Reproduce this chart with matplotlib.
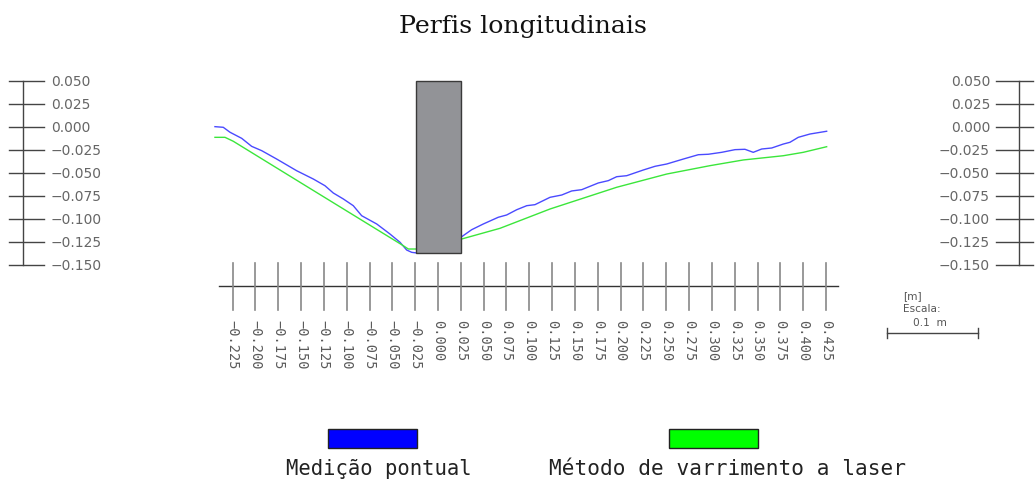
import matplotlib

matplotlib.use("Agg")
import matplotlib.pyplot as plt
from matplotlib.patches import Rectangle


# Perfil medido ponto a ponto (m)
blue_x = [-0.2443, -0.2352, -0.2278, -0.2150, -0.2041, -0.1931, -0.1767, -0.1548,
          -0.1366, -0.1238, -0.1147, -0.1037, -0.0928, -0.0836, -0.0671, -0.0526,
          -0.0416, -0.0343, -0.0288, -0.0233, 0.0000,
          0.0260, 0.0369, 0.0496, 0.0660, 0.0752, 0.0862, 0.0972, 0.1062, 0.1227,
          0.1355, 0.1464, 0.1574, 0.1756, 0.1865, 0.1957, 0.2067, 0.2249, 0.2377,
          0.2505, 0.2687, 0.2851, 0.2961, 0.3107, 0.3253, 0.3362, 0.3453, 0.3545,
          0.3655, 0.3782, 0.3855, 0.3946, 0.4074, 0.4257]
blue_y = [0.0007, 0.0000, -0.0054, -0.0120, -0.0207, -0.0254, -0.0345, -0.0472,
          -0.0562, -0.0635, -0.0714, -0.0779, -0.0852, -0.0961, -0.1051, -0.1160,
          -0.1250, -0.1334, -0.1359, -0.1366, -0.1300,
          -0.1189, -0.1113, -0.1051, -0.0978, -0.0953, -0.0896, -0.0852, -0.0841, -0.0761,
          -0.0736, -0.0692, -0.0678, -0.0605, -0.0580, -0.0537, -0.0526, -0.0464, -0.0424,
          -0.0399, -0.0345, -0.0298, -0.0293, -0.0272, -0.0243, -0.0239, -0.0272, -0.0236,
          -0.0225, -0.0182, -0.0163, -0.0109, -0.0073, -0.0043]

# Perfil obtido por varrimento laser (m)
green_x = [-0.2443, -0.2333, -0.2242, -0.1511, -0.0380, -0.0325, -0.0233, 0.0000,
           0.0260, 0.0679, 0.1227, 0.1957, 0.2505, 0.2979, 0.3344, 0.3782, 0.4001, 0.4257]
green_y = [-0.0109, -0.0109, -0.0152, -0.0598, -0.1287, -0.1323, -0.1323, -0.1280,
           -0.1214, -0.1098, -0.0888, -0.0652, -0.0508, -0.0417, -0.0355, -0.0309, -0.0272, -0.0211]

# Carril (secção a cinzento)
rail_left, rail_right = -0.0245, 0.025
rail_bottom, rail_top = -0.1366, 0.050

x_ticks = [round(-0.225 + 0.025 * i, 3) for i in range(27)]
y_ticks = [round(0.050 - 0.025 * i, 3) for i in range(9)]

series_labels = ["Medição pontual", "Método de varrimento a laser"]
series_colors = ["#0000ff", "#00ff00"]

# escala do desenho: pixels por metro
PX_X = 913.0
PX_Y = 920.0
W, H = 1035, 485
X0_PX, Y0_PX = 438.0, 128.3


def mx(px):
    return (px - X0_PX) / PX_X


def my(py):
    return (Y0_PX - py) / PX_Y


fig = plt.figure(figsize=(W / 100, H / 100), dpi=100)
ax = fig.add_axes([0, 0, 1, 1])
ax.set_xlim(mx(0), mx(W))
ax.set_ylim(my(H), my(0))
ax.axis("off")

ax.plot(blue_x, blue_y, color="#4a4aff", linewidth=1.0, zorder=3)
ax.plot(green_x, green_y, color="#3be63b", linewidth=1.0, zorder=3)
ax.add_patch(Rectangle((rail_left, rail_bottom), rail_right - rail_left, rail_top - rail_bottom,
                       facecolor="#929397", edgecolor="#3a3a3a", linewidth=1.0, zorder=4))

# réguas verticais (esquerda e direita)
tick_col = "#444444"
lab_col = "#666666"
for x_line, x_a, x_b, x_lab, ha in [(mx(23), mx(9), mx(44), mx(51), "left"),
                                     (mx(1019), mx(996), mx(1033), mx(990), "right")]:
    ax.plot([x_line, x_line], [y_ticks[0], y_ticks[-1]], color=tick_col, linewidth=1.0)
    for v in y_ticks:
        ax.plot([x_a, x_b], [v, v], color=tick_col, linewidth=1.0)
        ax.text(x_lab, v, f"{v:.3f}".replace("-", "\u2212"), ha=ha, va="center",
                fontsize=10, color=lab_col, family="DejaVu Sans")

# eixo horizontal
axis_y = my(287.3)
ax.plot([mx(219), mx(838)], [axis_y, axis_y], color="#333333", linewidth=1.0)
for v in x_ticks:
    ax.plot([v, v], [my(264), my(310.7)], color="#888888", linewidth=1.2)
    ax.text(v, my(320), f"{v:.3f}".replace("-", "\u2212"), rotation=-90, ha="center", va="top",
            fontsize=9.8, color="#5a5a5a", family="DejaVu Sans Mono")

# escala gráfica
ax.text(mx(903), my(296), "[m]", ha="left", va="center", fontsize=7.6, color="#555555")
ax.text(mx(903), my(309), "Escala:", ha="left", va="center", fontsize=7.6, color="#555555")
ax.text(mx(913), my(323), "0.1  m", ha="left", va="center", fontsize=7.6, color="#555555")
bar_y = my(334)
ax.plot([mx(887), mx(887) + 0.1], [bar_y, bar_y], color="#444444", linewidth=1.0)
for xb in [mx(887), mx(887) + 0.1]:
    ax.plot([xb, xb], [my(329), my(339)], color="#444444", linewidth=1.0)

# legenda
for label, color, x_left, x_right in [(series_labels[0], series_colors[0], mx(328), mx(417)),
                                       (series_labels[1], series_colors[1], mx(669), mx(758))]:
    ax.add_patch(Rectangle((x_left, my(449)), x_right - x_left, my(430) - my(449),
                           facecolor=color, edgecolor="#222222", linewidth=1.0))

ax.text(mx(379), my(469), series_labels[0], ha="center", va="center",
        fontsize=14.8, color="#222222", family="DejaVu Sans Mono")
ax.text(mx(727), my(469), series_labels[1], ha="center", va="center",
        fontsize=15.2, color="#222222", family="DejaVu Sans Mono")

ax.text(mx(523), my(27), "Perfis longitudinais", ha="center", va="center",
        fontsize=18.2, color="#111111", family="DejaVu Serif")

fig.savefig("out.png", dpi=100)
